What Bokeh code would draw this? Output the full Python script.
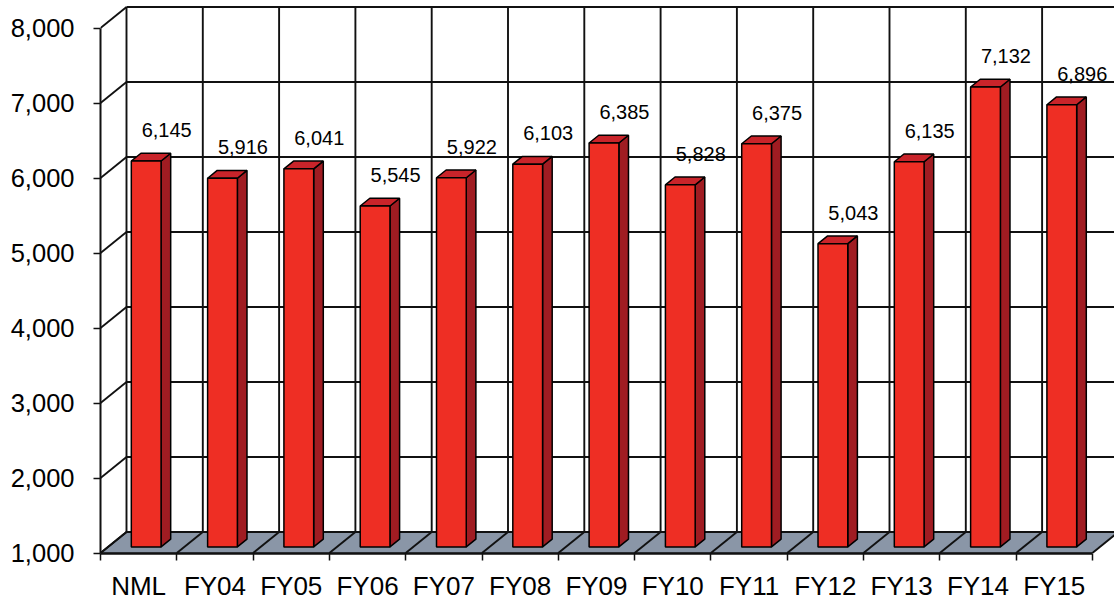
from bokeh.plotting import figure
from bokeh.models import Range1d, FixedTicker, ColumnDataSource, NumeralTickFormatter
from bokeh.embed import file_html
from bokeh.resources import INLINE
from bokeh.core.properties import value

# ---- data ----
categories = ["NML", "FY04", "FY05", "FY06", "FY07", "FY08", "FY09",
              "FY10", "FY11", "FY12", "FY13", "FY14", "FY15"]
values = [6145, 5916, 6041, 5545, 5922, 6103, 6385, 5828, 6375, 5043, 6135, 7132, 6896]
y_ticks = [1000, 2000, 3000, 4000, 5000, 6000, 7000, 8000]
base = 1000

# ---- geometry (pixels -> data units) ----
PX_PER_CAT = 76.3
PX_PER_UNIT = 0.075
FRAME_W, FRAME_H = 1014, 553
DX = 26 / PX_PER_CAT          # depth shift of the back wall (x)
DY = 21 / PX_PER_UNIT         # depth shift of the back wall (y)
T1, T2 = 0.29, 0.66           # bar front / back depth
HALF = 0.195                  # half bar width
LABEL_DX = 28 / PX_PER_CAT
LABEL_DY = 37 / PX_PER_UNIT
y0 = base - 0.5 / PX_PER_UNIT
y1 = y0 + FRAME_H / PX_PER_UNIT
n = len(categories)
top_tick = y_ticks[-1]

p = figure(frame_width=FRAME_W, frame_height=FRAME_H,
           x_range=Range1d(0, FRAME_W / PX_PER_CAT), y_range=Range1d(y0, y1),
           output_backend="svg", toolbar_location=None,
           min_border_left=100, min_border_right=0, min_border_top=0, min_border_bottom=48)
p.outline_line_color = None
p.grid.visible = False
p.background_fill_color = "white"
p.border_fill_color = "white"

GRID = "#111111"
GW = 1.9

# floor
p.patch([0, n, n + DX, DX], [base, base, base + DY, base + DY],
        fill_color="#8A96A7", line_color="#5a6470", line_width=1)
ks = list(range(n + 1))
p.segment(x0=ks, y0=[base] * len(ks), x1=[k + DX for k in ks], y1=[base + DY] * len(ks),
          line_color=GRID, line_width=GW)
# left wall diagonals
p.segment(x0=[0] * len(y_ticks), y0=y_ticks, x1=[DX] * len(y_ticks),
          y1=[v + DY for v in y_ticks], line_color=GRID, line_width=GW)
# back wall horizontals
p.segment(x0=[DX] * len(y_ticks), y0=[v + DY for v in y_ticks],
          x1=[n + DX] * len(y_ticks), y1=[v + DY for v in y_ticks],
          line_color=GRID, line_width=GW)
# back wall verticals
p.segment(x0=[k + DX for k in ks], y0=[base + DY] * len(ks),
          x1=[k + DX for k in ks], y1=[top_tick + DY] * len(ks),
          line_color=GRID, line_width=GW)

# bars
front_xs, front_ys, side_xs, side_ys, top_xs, top_ys = [], [], [], [], [], []
for i, v in enumerate(values):
    xa = i + 0.5 - HALF
    xb = i + 0.5 + HALF
    front_xs.append([xa + T1 * DX, xb + T1 * DX, xb + T1 * DX, xa + T1 * DX])
    front_ys.append([base + T1 * DY, base + T1 * DY, v + T1 * DY, v + T1 * DY])
    side_xs.append([xb + T1 * DX, xb + T2 * DX, xb + T2 * DX, xb + T1 * DX])
    side_ys.append([base + T1 * DY, base + T2 * DY, v + T2 * DY, v + T1 * DY])
    top_xs.append([xa + T1 * DX, xb + T1 * DX, xb + T2 * DX, xa + T2 * DX])
    top_ys.append([v + T1 * DY, v + T1 * DY, v + T2 * DY, v + T2 * DY])

p.patches(side_xs, side_ys, fill_color="#A01C22", line_color="black", line_width=1.5)
p.patches(top_xs, top_ys, fill_color="#C9242A", line_color="black", line_width=1.5)
p.patches(front_xs, front_ys, fill_color="#EE2E24", line_color="black", line_width=1.5)

# data labels
src = ColumnDataSource(dict(
    x=[i + 0.5 + LABEL_DX for i in range(n)],
    y=[v + LABEL_DY for v in values],
    t=[f"{v:,}" for v in values]))
p.text(x="x", y="y", text="t", source=src, text_align="center", text_baseline="middle",
       text_font=value("Liberation Sans"), text_font_size="20px", text_color="black")

# y axis
ya = p.yaxis[0]
ya.ticker = FixedTicker(ticks=y_ticks)
ya.formatter = NumeralTickFormatter(format="0,0")
ya.bounds = (y_ticks[0], y_ticks[-1])
ya.major_label_text_font = "Liberation Sans"
ya.major_label_text_font_size = "25.5px"
ya.major_label_text_color = "black"
ya.major_tick_out = 7
ya.major_tick_in = 0
ya.major_tick_line_color = GRID
ya.major_tick_line_width = 1.5
ya.minor_tick_line_color = None
ya.axis_line_color = GRID
ya.axis_line_width = 2
ya.major_label_standoff = 19

# x axis
xa_ = p.xaxis[0]
xa_.ticker = FixedTicker(ticks=[i + 0.5 for i in range(n)], minor_ticks=ks)
xa_.major_label_overrides = {i + 0.5: c for i, c in enumerate(categories)}
xa_.bounds = (0, n)
xa_.major_label_text_font = "Liberation Sans"
xa_.major_label_text_font_size = "26px"
xa_.major_label_text_color = "black"
xa_.major_tick_line_color = None
xa_.major_tick_out = 7
xa_.major_tick_in = 0
xa_.minor_tick_out = 7
xa_.minor_tick_in = 0
xa_.minor_tick_line_color = GRID
xa_.minor_tick_line_width = 1.5
xa_.axis_line_color = GRID
xa_.axis_line_width = 2.5
xa_.major_label_standoff = 10

open("out.html", "w").write(file_html(p, INLINE))
